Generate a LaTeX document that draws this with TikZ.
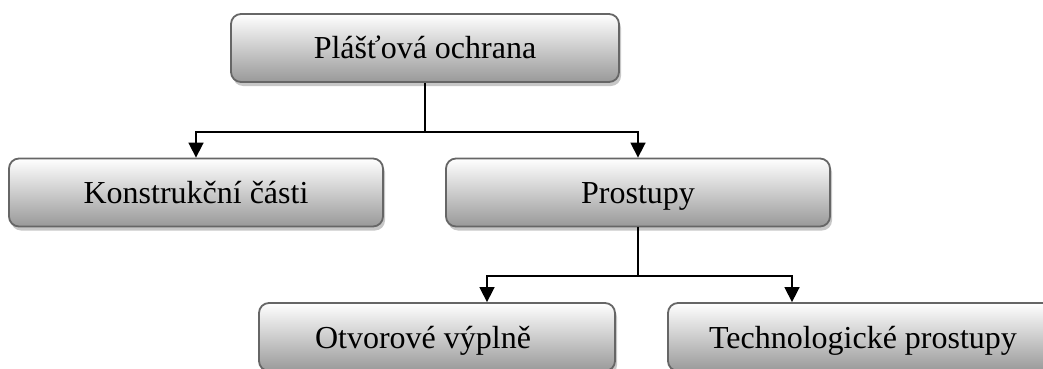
\documentclass[tikz,border=0pt]{standalone}
\usepackage{fontspec}
\setmainfont{Liberation Serif}
\usetikzlibrary{arrows.meta,shadows}

\tikzset{
  orgbox/.style={draw=black!60, line width=1.8pt, rounded corners=10pt,
    top color=white, bottom color=black!40, minimum height=68pt,
    inner sep=0pt, text height=22pt, text depth=0pt,
    font=\fontsize{32}{38}\selectfont,
    drop shadow={shadow xshift=2pt, shadow yshift=-4pt, fill=black!22, opacity=1}},
  orgline/.style={line width=1.6pt},
  orgarrow/.style={orgline, -{Triangle[length=15pt,width=15pt]}}
}

\begin{document}
\begin{tikzpicture}[x=1pt,y=-1pt]
\useasboundingbox (0,0) rectangle (1043,369);
\node[orgbox, minimum width=388pt] (plast) at (425,48) {Plášťová ochrana};
\node[orgbox, minimum width=374pt] (konstr) at (196,192.5) {Konstrukční části};
\node[orgbox, minimum width=384pt] (prost) at (638,192.5) {Prostupy};
\node[orgbox, minimum width=356pt] (otvor) at (437,337) {\hspace*{-28pt}Otvorové výplně};
\node[orgbox, minimum width=390pt] (techn) at (863,337) {Technologické prostupy};
\coordinate (j1) at (425,132);
\coordinate (j2) at (638,276);
\coordinate (otvorIn) at ([xshift=50pt]otvor.north);
\coordinate (technIn) at ([xshift=-71pt]techn.north);
\draw[orgline] (plast.south) -- (j1);
\draw[orgarrow] (j1) -| (konstr.north);
\draw[orgarrow] (j1) -| (prost.north);
\draw[orgline] (prost.south) -- (j2);
\draw[orgarrow] (j2) -| (otvorIn);
\draw[orgarrow] (j2) -| (technIn);
\end{tikzpicture}
\end{document}
